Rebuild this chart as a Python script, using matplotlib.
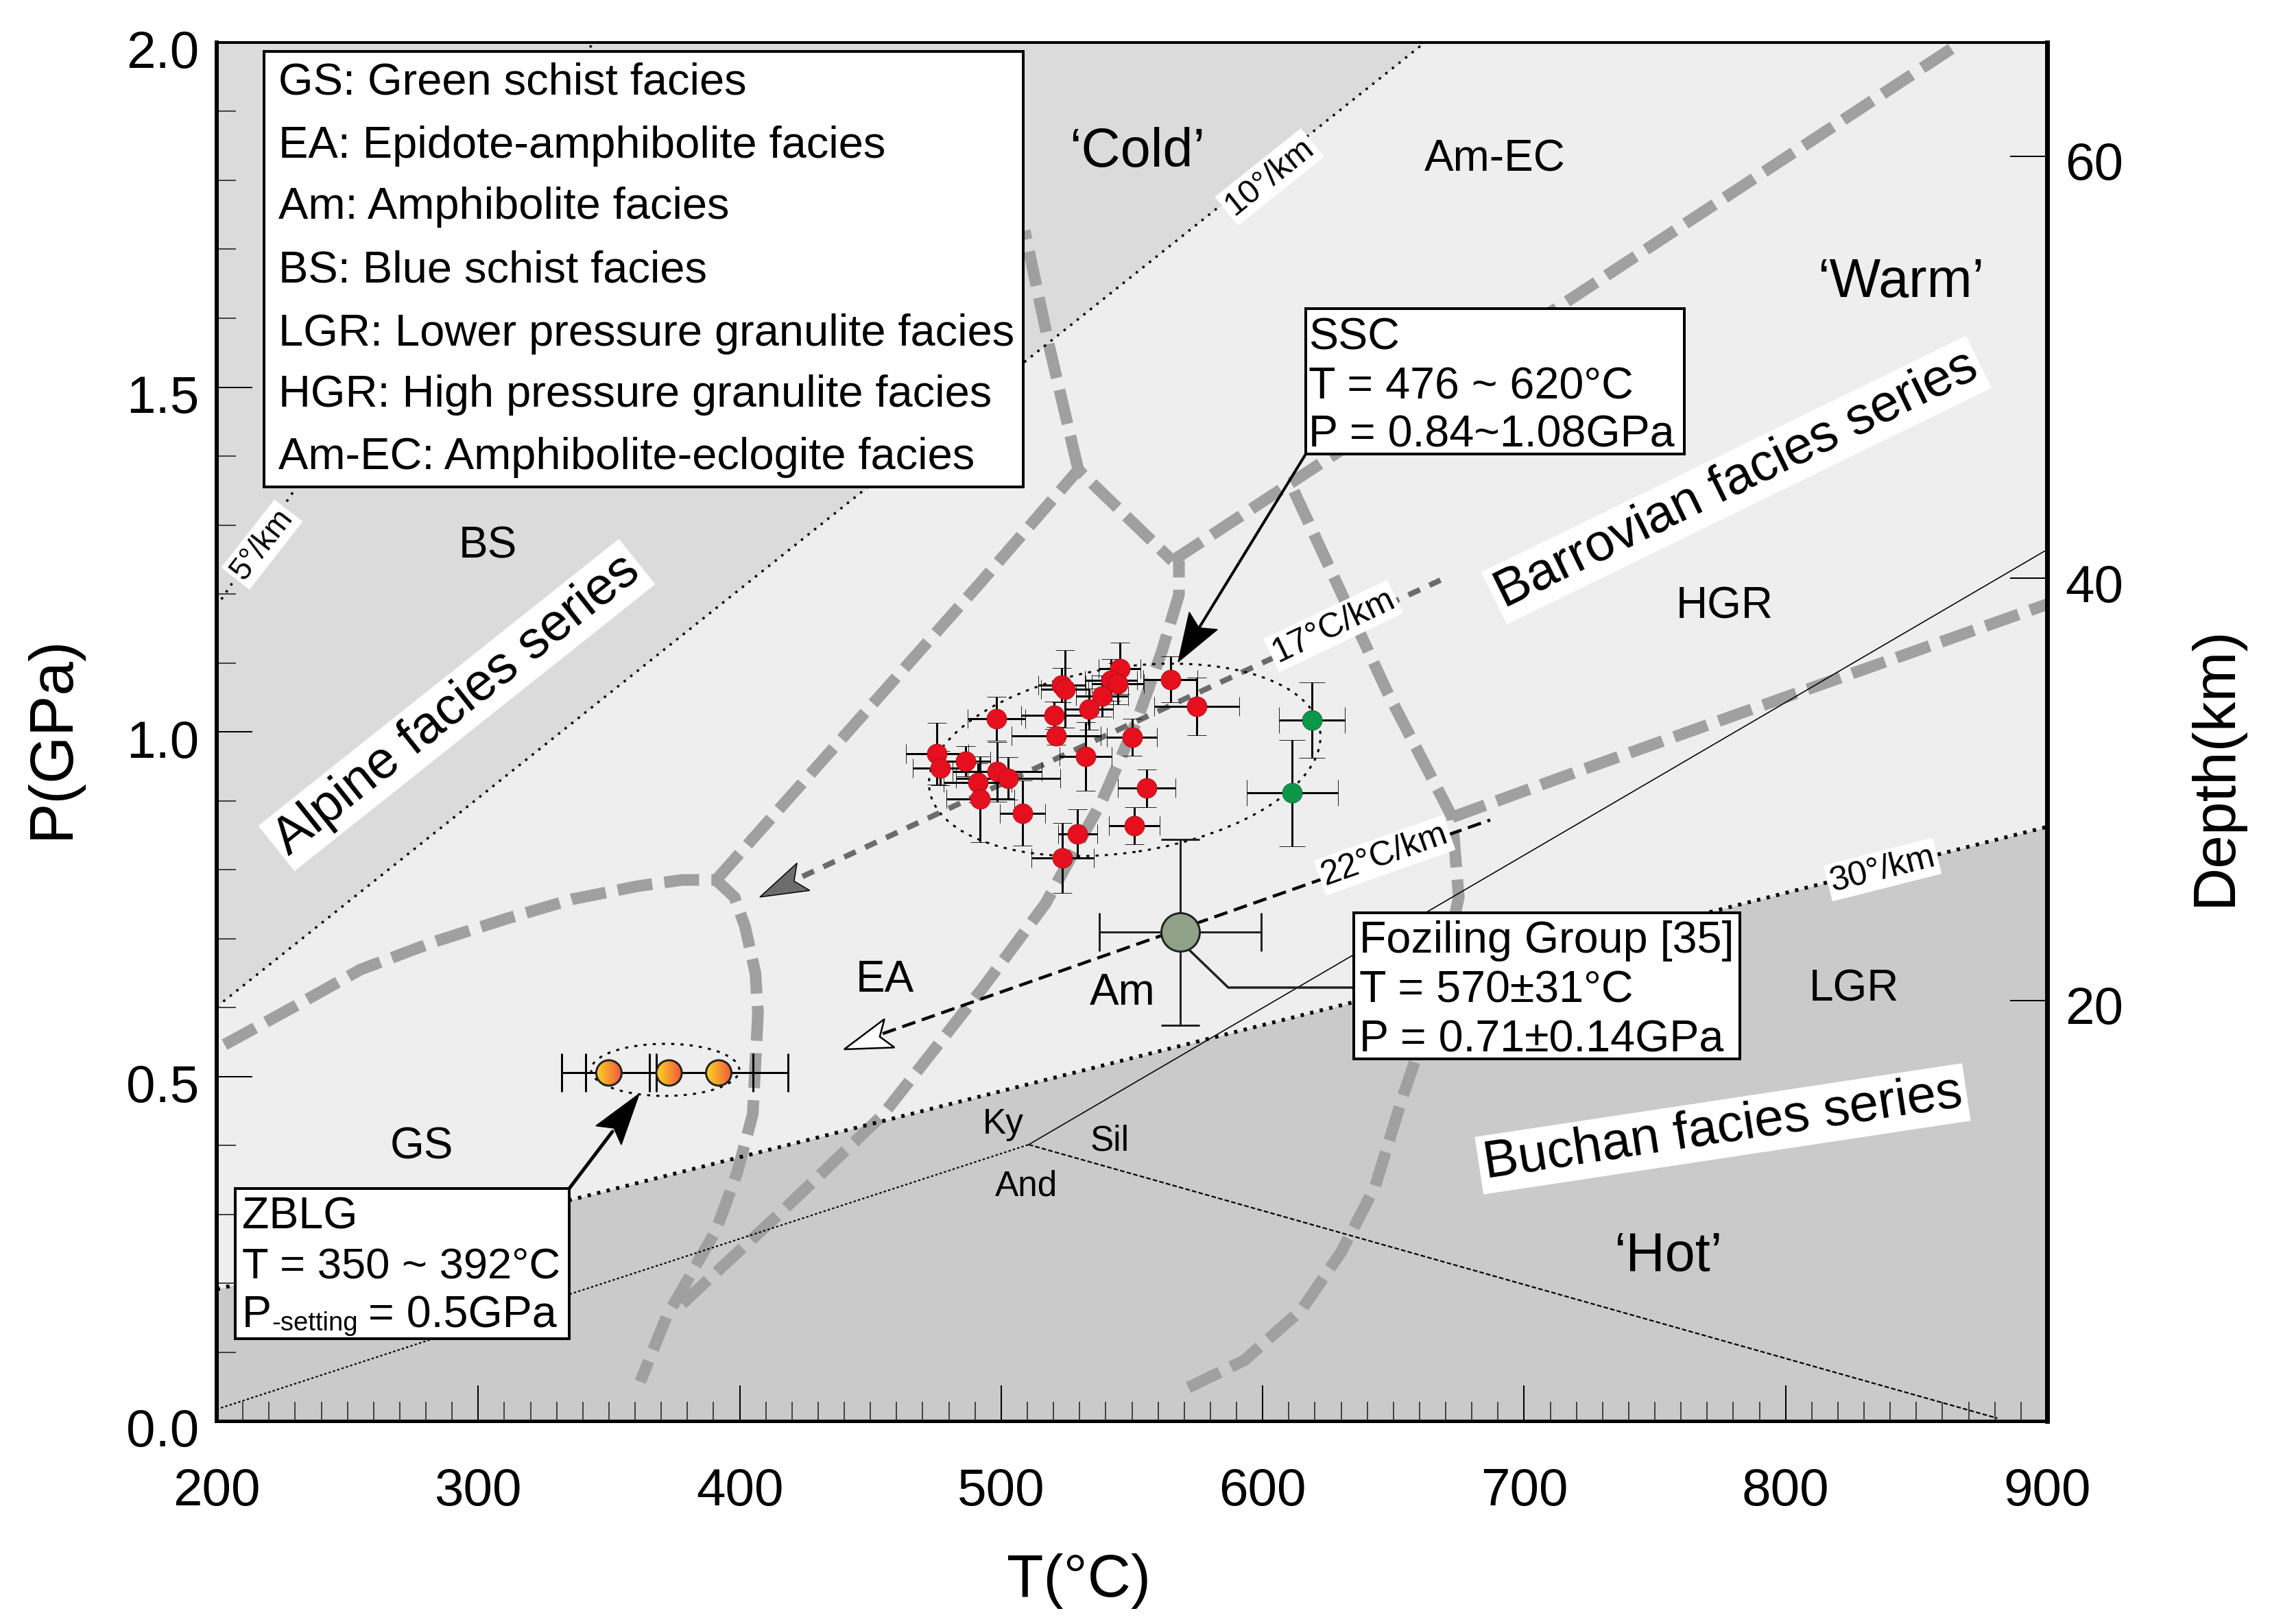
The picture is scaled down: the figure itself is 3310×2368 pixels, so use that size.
"""P-T diagram with metamorphic facies fields, ZBLG and SSC samples."""
import numpy as np
import matplotlib
matplotlib.use("Agg")
import matplotlib.pyplot as plt
from matplotlib.colors import LinearSegmentedColormap
from matplotlib.lines import Line2D
from matplotlib.patches import Ellipse, Polygon, Rectangle
from matplotlib.transforms import Affine2D, IdentityTransform, ScaledTranslation

plt.rcParams["font.family"] = ["Liberation Sans", "DejaVu Sans"]

W, H = 3310, 2368
L_PX, R_PX, T_PX, B_PX = 316, 2985, 62, 2072

# SSC samples (red)
RED_T = [564.7, 574.7, 545.3, 542.0, 544.6, 538.6, 533.7, 523.2, 524.3, 520.3, 498.2, 521.0, 550.0,
         532.2, 475.5, 476.8, 486.4, 498.5, 502.7, 491.1, 492.0, 508.2, 529.2, 523.5, 555.6, 551.0]
RED_P = [1.076, 1.037, 1.092, 1.075, 1.070, 1.052, 1.033, 1.068, 1.062, 1.024, 1.019, 0.994, 0.992,
         0.964, 0.968, 0.947, 0.957, 0.942, 0.932, 0.926, 0.902, 0.882, 0.852, 0.817, 0.918, 0.864]
RED_TERR = [10.4, 16.3, 8, 10, 10, 10, 9, 9, 9, 12.7, 10.9, 17, 9.5,
            10, 12, 10.5, 9.4, 17, 20, 13, 13, 8.7, 7.5, 12, 11, 9.7]
RED_PERR = [0.033, 0.042, 0.037, 0.03, 0.03, 0.03, 0.03, 0.025, 0.056, 0.02, 0.032, 0.013, 0.027,
            0.05, 0.045, 0.025, 0.022, 0.043, 0.031, 0.028, 0.062, 0.047, 0.036, 0.051, 0.027, 0.027]

# SSC samples (green)
GREEN_T = [618.9, 611.3]
GREEN_P = [1.017, 0.911]
GREEN_TERR = [12.6, 17.5]
GREEN_PERR = [0.055, 0.077]

# Foziling Group
FOZ_T, FOZ_P, FOZ_TERR, FOZ_PERR = 568.5, 0.709, 31, 0.135

# ZBLG samples
ZBLG_T = [350, 373, 392]
ZBLG_P = [0.505, 0.505, 0.505]
ZBLG_TERR = [18, 32, 26.5]

# facies boundaries, thick grey dashes
FACIES = [
    ([203, 230, 255, 283, 311, 336, 361, 378, 391, 398, 402, 406, 407, 405, 399, 391, 372, 362],
     [0.546, 0.602, 0.655, 0.695, 0.729, 0.757, 0.776, 0.785, 0.785, 0.76, 0.718, 0.65, 0.592, 0.445, 0.36, 0.277, 0.151, 0.057]),
    ([378, 415, 454.7, 493.5, 517, 538.6, 552, 561.4, 568, 568],
     [0.17, 0.30, 0.444, 0.631, 0.751, 0.900, 1.017, 1.116, 1.199, 1.248]),
    ([391, 492, 529.5, 565.5], [0.785, 1.216, 1.38, 1.248]),
    ([529.5, 518.4, 509], [1.38, 1.559, 1.727]),
    ([565.5, 867], [1.248, 2.0]),
    ([612, 648, 672.5, 675, 667, 653, 643, 630, 615, 593, 568],
     [1.349, 1.055, 0.876, 0.76, 0.62, 0.464, 0.34, 0.245, 0.162, 0.088, 0.042]),
    ([672.5, 726, 803.5, 900], [0.876, 0.95, 1.055, 1.185]),
]

# geotherms and Al2SiO5 lines
LINE_5_T, LINE_5_P = [200, 344], [1.182, 2.0]
LINE_10_T, LINE_10_P = [200, 662], [0.601, 2.0]
LINE_30_T, LINE_30_P = [200, 900], [0.191, 0.862]
LINE_17_T, LINE_17_P = [424, 668], [0.79, 1.22]
LINE_22_T, LINE_22_P = [454.7, 687], [0.562, 0.872]
AND_KY_T, AND_KY_P = [200, 510.5], [0.017, 0.401]
KY_SIL_T, KY_SIL_P = [510.5, 899], [0.401, 1.262]
AND_SIL_T, AND_SIL_P = [510.5, 881], [0.401, 0.004]

LEGEND_LINES = [
    "GS: Green schist facies", "EA: Epidote-amphibolite facies", "Am: Amphibolite facies",
    "BS: Blue schist facies", "LGR: Lower pressure granulite facies",
    "HGR: High pressure granulite facies", "Am-EC: Amphibolite-eclogite facies",
]

C_UPPER, C_MID, C_LOWER = "#dbdbdb", "#eeeeee", "#cacaca"
C_FACIES = "#a0a0a0"


def px(v):
    # reference pixels to points
    return v * 72 / 100


fig = plt.figure(figsize=(W / 100, H / 100), dpi=100, facecolor="white")
ax = fig.add_axes([L_PX / W, 1 - B_PX / H, (R_PX - L_PX) / W, (B_PX - T_PX) / H])
ax.set_xlim(200, 900)
ax.set_ylim(0, 2)
PX = Affine2D().scale(1 / W, -1 / H).translate(0, 1) + fig.transFigure

# background fields
ax.set_facecolor(C_MID)
ax.fill_between(LINE_10_T + [900], LINE_10_P + [2.0], 2.0, color=C_UPPER, lw=0, zorder=1)
ax.fill_between(LINE_30_T, LINE_30_P, 0, color=C_LOWER, lw=0, zorder=1)

for t, p in FACIES:
    ax.plot(t, p, color=C_FACIES, lw=px(17), dashes=(3.0, 1.05), dash_joinstyle="miter",
            dash_capstyle="butt", zorder=2)

dots = dict(color="black", dash_capstyle="butt", zorder=2.5)
ax.plot(LINE_5_T, LINE_5_P, lw=px(3.5), dashes=(1, 2.5), **dots)
ax.plot(LINE_10_T, LINE_10_P, lw=px(3.5), dashes=(1, 2.5), **dots)
ax.plot(LINE_30_T, LINE_30_P, lw=px(5.5), dashes=(0.9, 1.7), **dots)

ax.plot(AND_KY_T, AND_KY_P, color="black", lw=px(2.2), dashes=(1.5, 1.5), zorder=2.5)
ax.plot(KY_SIL_T, KY_SIL_P, color="black", lw=px(1.6), zorder=2.5)
ax.plot(AND_SIL_T, AND_SIL_P, color="black", lw=px(2.2), dashes=(3, 1.5), zorder=2.5)

ax.plot(LINE_17_T, LINE_17_P, color="#6c6c6c", lw=px(8), dashes=(2.3, 1.9), dash_capstyle="butt", zorder=2.6)
ax.plot(LINE_22_T, LINE_22_P, color="black", lw=px(4.5), dashes=(4.5, 2.2), zorder=2.6)


def head(tip, tail, length, width, notch, fc, lw=1.5):
    # stealth arrowhead, in reference pixels
    tip = np.array(tip, float)
    d = np.array(tail, float) - tip
    d /= np.hypot(*d)
    n = np.array([-d[1], d[0]])
    pts = [tip, tip + d * length + n * width, tip + d * notch, tip + d * length - n * width]
    ax.add_patch(Polygon(pts, closed=True, fc=fc, ec="black", lw=px(lw), transform=PX, zorder=6, clip_on=False))


# tips of the geotherm arrows
head((1108, 1308), (2100, 846), 70, 22, 55, "#6c6c6c")
head((1231, 1530), (2174, 1196), 70, 22, 55, "white", lw=2.5)

# samples
bar = dict(fmt="o", ecolor="black", elinewidth=px(3), capthick=px(3), zorder=3.5)
ax.errorbar(RED_T, RED_P, xerr=RED_TERR, yerr=RED_PERR, ms=px(29), mfc="#e60f1e", mec="#a01018",
            mew=0.6, capsize=px(14), **bar)
ax.errorbar(GREEN_T, GREEN_P, xerr=GREEN_TERR, yerr=GREEN_PERR, ms=px(29), mfc="#0c9648", mec="#0a6a35",
            mew=0.6, capsize=px(19), **bar)
ax.errorbar(FOZ_T, FOZ_P, xerr=FOZ_TERR, yerr=FOZ_PERR, ms=px(56), mfc="#8fa287", mec="#222222",
            mew=px(3), capsize=px(28), ecolor="#222222", fmt="o", elinewidth=px(3), capthick=px(3), zorder=3.5)
ax.errorbar(ZBLG_T, ZBLG_P, xerr=ZBLG_TERR, fmt="none", ecolor="black", elinewidth=px(3), capthick=px(3),
            capsize=px(28), zorder=3.2)

# ZBLG markers with a left to right gradient
grad = LinearSegmentedColormap.from_list("grad", ["#ffd524", "#ee5a3c"])
for t, p in zip(ZBLG_T, ZBLG_P):
    dt, dp = 37 / 3.813, 37 / 1005
    im = ax.imshow(np.linspace(0, 1, 64)[None, :], cmap=grad, aspect="auto", zorder=4,
                   extent=(t - dt / 2, t + dt / 2, p - dp / 2, p + dp / 2))
    e = Ellipse((t, p), dt, dp, fc="none", ec="#222222", lw=px(3), zorder=4.1)
    ax.add_patch(e)
    im.set_clip_path(e)
ax.set_xlim(200, 900)
ax.set_ylim(0, 2)

# dotted sample envelopes, sizes in reference pixels
env = dict(fc="none", ec="black", lw=px(3), ls=(0, (1.5, 3)), zorder=3.3)
ax.add_patch(Ellipse((1640, H - 1108), 576, 270, angle=8.7, transform=IdentityTransform(), **env))
ax.add_patch(Ellipse((970, H - 1560), 216, 76, transform=IdentityTransform(), **env))

# axes
ax.set_xticks(np.arange(200, 901, 100))
ax.set_xticks(np.arange(200, 901, 10), minor=True)
ax.set_yticks(np.arange(0, 2.01, 0.5))
ax.set_yticks(np.arange(0, 2.01, 0.1), minor=True)
ax.tick_params(which="major", direction="in", length=px(52), width=px(2), labelsize=55, pad=px(26))
ax.tick_params(which="minor", direction="in", length=px(28), width=px(2), color="#444444")
ax.tick_params(axis="x", which="major", pad=px(68))
ax.set_yticklabels(["0.0", "0.5", "1.0", "1.5", "2.0"])
for lab in ax.get_yticklabels():
    lab.set_transform(lab.get_transform() + ScaledTranslation(0, -10 / 100, fig.dpi_scale_trans))
for side, w in zip(["left", "bottom", "top", "right"], [6, 5, 4, 7]):
    ax.spines[side].set_linewidth(px(w))
ax.set_xlabel("T(°C)", fontsize=63, va="center")
ax.xaxis.set_label_coords((1573 - L_PX) / (R_PX - L_PX), -(2305 - B_PX) / (B_PX - T_PX))
ax.set_ylabel("P(GPa)", fontsize=64, va="center")
ax.yaxis.set_label_coords(-(L_PX - 77) / (R_PX - L_PX), (B_PX - 1075) / (B_PX - T_PX))

ax2 = ax.twinx()
ax2.set_ylim(0.08, 65.39)
ax2.set_yticks([20, 40, 60])
ax2.tick_params(direction="in", length=px(54), width=px(2), labelsize=55, pad=px(26))
for lab in ax2.get_yticklabels():
    lab.set_transform(lab.get_transform() + ScaledTranslation(0, -7 / 100, fig.dpi_scale_trans))
for s in ax2.spines.values():
    s.set_visible(False)
ax2.set_ylabel("Depth(km)", fontsize=63, va="center", rotation=90)
ax2.yaxis.set_label_coords(1 + (3230 - R_PX) / (R_PX - L_PX), (B_PX - 1117) / (B_PX - T_PX))


def label(x, y, s, size=46, **kw):
    kw.setdefault("ha", "center")
    kw.setdefault("va", "center")
    ax.text(x, y, s, fontsize=size, transform=PX, clip_on=False, zorder=kw.pop("zorder", 3), **kw)


def slanted(x, y, s, size, rot, pad):
    label(x, y, s, size=size, rotation=rot, rotation_mode="anchor", zorder=3.4,
          bbox=dict(fc="white", ec="none", pad=pad))


# field names
label(2180, 232, "Am-EC")
label(711, 796, "BS")
label(2515, 885, "HGR")
label(615, 1672, "GS")
label(1290, 1429, "EA")
label(1637, 1448, "Am")
label(2703, 1442, "LGR")
label(1658, 222, "‘Cold’", size=57)
label(2772, 412, "‘Warm’", size=57)
label(2432, 1833, "‘Hot’", size=57)
label(1463, 1640, "Ky", size=37)
label(1618, 1664, "Sil", size=37)
label(1497, 1730, "And", size=37)

# series and geotherm labels on white
slanted(666, 1028, "Alpine facies series", 55, 38.5, 5)
slanted(2532, 700, "Barrovian facies series", 55, 26, 5)
slanted(2512, 1646, "Buchan facies series", 55, 8.6, 5)
slanted(382, 794, "5°/km", 33, 52, 3)
slanted(1851, 258, "10°/km", 35, 38.6, 3)
slanted(1944, 913, "17°C/km", 36, 25.5, 3)
slanted(2019, 1247, "22°C/km", 36, 19.5, 3)
slanted(2745, 1268, "30°/km", 36, 14.2, 3)


def box(left, top_, right, bottom):
    ax.add_patch(Rectangle((left, top_), right - left, bottom - top_, fc="white", ec="black", lw=px(4),
                           transform=PX, zorder=5, clip_on=False))


def boxed(x, y, s, size=46.5):
    label(x, y, s, size=size, ha="left", va="baseline", zorder=5.5)


# legend box
box(385, 75, 1492, 710)
for y, s in zip([137, 230, 319, 411, 504, 593, 684], LEGEND_LINES):
    boxed(406, y, s, size=46.8)

# SSC callout
box(1904, 450, 2456, 662)
boxed(1908, 510, "SSC")
boxed(1908, 582, "T = 476 ~ 620°C")
boxed(1908, 652, "P = 0.84~1.08GPa")
ax.annotate("", xy=(1745, 921), xytext=(1904, 662), xycoords=PX, textcoords=PX,
            arrowprops=dict(arrowstyle="-", color="black", lw=px(4), shrinkA=0, shrinkB=0), zorder=6)
head((1718, 965), (1904, 662), 70, 24, 58, "black")

# ZBLG callout
box(343, 1733, 830, 1952)
boxed(353, 1792, "ZBLG")
boxed(353, 1863, "T = 350 ~ 392°C", size=45.5)
boxed(353, 1935, "P")
boxed(396, 1940, "-setting", size=27.5)
boxed(537, 1935, "= 0.5GPa")
ax.annotate("", xy=(893, 1650), xytext=(830, 1733), xycoords=PX, textcoords=PX,
            arrowprops=dict(arrowstyle="-", color="black", lw=px(5), shrinkA=0, shrinkB=0), zorder=6)
head((932, 1595), (830, 1733), 75, 23, 62, "black")

# Foziling callout
box(1974, 1331, 2537, 1544)
boxed(1982, 1389, "Foziling Group [35]")
boxed(1982, 1462, "T = 570±31°C")
boxed(1982, 1534, "P = 0.71±0.14GPa")
ax.add_line(Line2D([1735, 1791, 1974], [1386, 1440, 1440], color="#222222", lw=px(3.5), transform=PX, zorder=3.6))

ax.set_xlim(200, 900)
ax.set_ylim(0, 2)
fig.savefig("out.png", dpi=100, facecolor="white")
